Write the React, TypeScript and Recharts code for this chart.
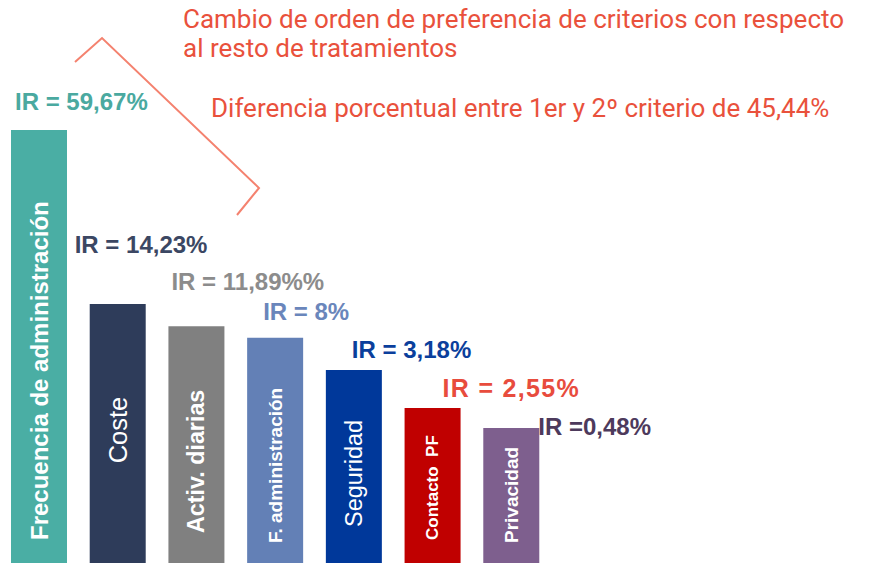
import { BarChart, Bar, XAxis, YAxis, Cell, LabelList } from 'recharts'

// criterios ordenados por importancia relativa (IR)
const criterios = ['Frecuencia de administración', 'Coste', 'Activ. diarias', 'F. administración', 'Seguridad', 'Contacto\u00a0\u00a0PF', 'Privacidad']
// altura visual de cada barra (relativa a la primera = 100)
const alturas = [100, 59.8, 54.7, 52, 44.6, 35.8, 31.2]
const irLabels = ['IR = 59,67%', 'IR = 14,23%', 'IR = 11,89%%', 'IR = 8%', 'IR = 3,18%', 'IR = 2,55%', 'IR =0,48%']

const COLORS = ['#4aaea4', '#2e3c5a', '#808080', '#6380b6', '#00389a', '#c00000', '#7e5f8e']
const IR_COLORS = ['#4aa9a0', '#3b4763', '#8c8c8c', '#6a86bb', '#0b3f9c', '#e84c3d', '#4d3a5c']

// ajustes de posición de las etiquetas IR respecto a la barra
const IR_OFFSET = [[4, -29], [-15, -60], [3, -45], [16, -26], [26, -20], [38, -20], [55, -1]]
// etiquetas internas: tamaño, peso, posición (desde el pie de la barra) y anclaje
const INNER = [
  { size: 24, weight: 700, pad: 23, anchor: 'start' },
  { size: 25.5, weight: 400, pad: 133, anchor: 'middle' },
  { size: 23.3, weight: 700, pad: 30, anchor: 'start' },
  { size: 19, weight: 700, pad: 20, anchor: 'start' },
  { size: 23.5, weight: 400, pad: 36, anchor: 'start' },
  { size: 17, weight: 700, pad: 23, anchor: 'start' },
  { size: 19, weight: 700, pad: 20, anchor: 'start' },
]

const data = criterios.map((c, i) => ({ name: c, altura: alturas[i], ir: irLabels[i] }))

const ROBOTO = 'Roboto, "Liberation Sans", sans-serif'
const ARIAL = '"Liberation Sans", Arial, sans-serif'

const IrLabel = (props: any) => {
  const { x, y, index, value } = props
  const [dx, dy] = IR_OFFSET[index]
  const wide = index === 5
  return (
    <text x={x + dx} y={y + dy} fill={IR_COLORS[index]} fontFamily={ARIAL} fontWeight={700}
      fontSize={wide ? 25 : 24} letterSpacing={wide ? 1.3 : 0} dominantBaseline="central">
      {value}
    </text>
  )
}

const InnerLabel = (props: any) => {
  const { x, y, width, height, index, value } = props
  const s = INNER[index]
  const cx = x + width / 2
  const cy = y + height - s.pad
  return (
    <text x={cx} y={cy} transform={`rotate(-90 ${cx} ${cy})`} fill="#ffffff" fontFamily={ARIAL} fontWeight={s.weight} fontSize={s.size} textAnchor={s.anchor} dominantBaseline="central">
      {value}
    </text>
  )
}

const App = () => {
  return (
    <div style={{ position: 'absolute', left: 0, top: 0, width: 872, height: 563, background: '#fff' }}>
      <BarChart width={872} height={563} data={data} margin={{ top: 130, right: 321, bottom: 0, left: 0 }} barCategoryGap={0}>
        <XAxis dataKey="name" hide />
        <YAxis domain={[0, 100]} hide />
        <Bar dataKey="altura" barSize={56} isAnimationActive={false}>
          {data.map((d, i) => <Cell key={i} fill={COLORS[i]} />)}
          <LabelList dataKey="ir" content={IrLabel} />
          <LabelList dataKey="name" content={InnerLabel} />
        </Bar>
      </BarChart>
      <svg width={872} height={563} style={{ position: 'absolute', left: 0, top: 0, pointerEvents: 'none' }}>
        <polyline points="75,62 102,38 259,188 237,215" fill="none" stroke="#f4826f" strokeWidth={2} />
        <g fill="#e9513c" fontFamily={ROBOTO} fontSize={26}>
          <text x={183} y={28}>Cambio de orden de preferencia de criterios con respecto</text>
          <text x={183} y={57}>al resto de tratamientos</text>
          <text x={211} y={117}>Diferencia porcentual entre 1er y 2º criterio de 45,44%</text>
        </g>
      </svg>
    </div>
  )
}

export default App
